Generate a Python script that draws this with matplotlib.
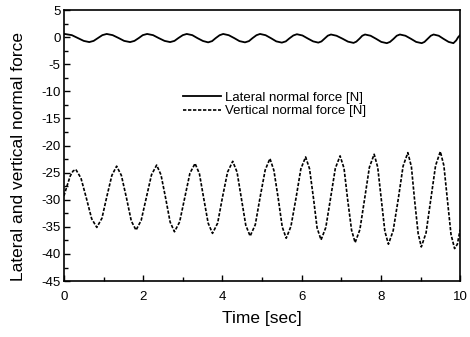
import matplotlib
matplotlib.use("Agg")
import matplotlib.pyplot as plt
from matplotlib.ticker import MultipleLocator

plt.rcParams["font.family"] = ["Liberation Sans", "DejaVu Sans"]
plt.rcParams["axes.unicode_minus"] = False

# lateral normal force [N]
lat_t = [0.00, 0.20, 0.35, 0.50, 0.64, 0.75, 0.86, 0.97, 1.08, 1.23, 1.38, 1.52,
         1.67, 1.78, 1.89, 1.99, 2.10, 2.25, 2.39, 2.54, 2.68, 2.79, 2.89, 3.00,
         3.10, 3.24, 3.37, 3.51, 3.64, 3.74, 3.83, 3.93, 4.02, 4.16, 4.30, 4.43,
         4.57, 4.67, 4.76, 4.86, 4.95, 5.09, 5.23, 5.36, 5.50, 5.60, 5.69, 5.79,
         5.88, 6.02, 6.15, 6.29, 6.42, 6.50, 6.58, 6.66, 6.74, 6.88, 7.03, 7.17,
         7.31, 7.38, 7.46, 7.53, 7.60, 7.74, 7.88, 8.01, 8.15, 8.23, 8.32, 8.40,
         8.48, 8.62, 8.76, 8.89, 9.03, 9.10, 9.18, 9.26, 9.33, 9.46, 9.58, 9.71,
         9.83, 9.90, 9.95, 10.00]
lat_f = [0.62, 0.38, -0.15, -0.68, -0.90, -0.68, -0.15, 0.38, 0.60, 0.38, -0.15, -0.68,
         -0.90, -0.68, -0.15, 0.38, 0.60, 0.38, -0.15, -0.68, -0.90, -0.68, -0.15, 0.38,
         0.60, 0.38, -0.17, -0.70, -0.95, -0.72, -0.17, 0.37, 0.60, 0.37, -0.17, -0.72,
         -0.95, -0.72, -0.17, 0.37, 0.60, 0.37, -0.20, -0.77, -1.00, -0.77, -0.22, 0.32,
         0.55, 0.32, -0.22, -0.77, -1.00, -0.78, -0.25, 0.28, 0.50, 0.27, -0.27, -0.82,
         -1.05, -0.82, -0.27, 0.27, 0.50, 0.27, -0.30, -0.87, -1.10, -0.87, -0.30, 0.27,
         0.50, 0.27, -0.30, -0.87, -1.10, -0.87, -0.30, 0.27, 0.50, 0.27, -0.30, -0.87,
         -1.10, -0.60, 0.00, 0.40]

# vertical normal force [N]
vert_t = [0.00, 0.08, 0.16, 0.23, 0.30, 0.43, 0.57, 0.70, 0.83, 0.96, 1.08, 1.21,
          1.33, 1.45, 1.58, 1.70, 1.82, 1.95, 2.08, 2.21, 2.34, 2.45, 2.57, 2.68,
          2.79, 2.92, 3.05, 3.18, 3.31, 3.42, 3.53, 3.64, 3.75, 3.88, 4.00, 4.13,
          4.26, 4.37, 4.48, 4.59, 4.70, 4.83, 4.95, 5.08, 5.20, 5.30, 5.41, 5.51,
          5.61, 5.73, 5.86, 5.98, 6.10, 6.20, 6.30, 6.39, 6.49, 6.61, 6.73, 6.85,
          6.97, 7.07, 7.16, 7.26, 7.35, 7.47, 7.59, 7.71, 7.83, 7.92, 8.01, 8.10,
          8.19, 8.31, 8.44, 8.56, 8.68, 8.77, 8.85, 8.94, 9.02, 9.14, 9.26, 9.38,
          9.50, 9.59, 9.68, 9.77, 9.86, 9.93, 10.00]
vert_f = [-29.3, -27.4, -25.6, -24.7, -24.4, -26.0, -29.8, -33.5, -35.1, -33.4, -29.5, -25.5,
          -23.8, -25.5, -29.7, -33.9, -35.6, -33.8, -29.6, -25.4, -23.6, -25.4, -29.8, -34.1,
          -35.9, -34.1, -29.6, -25.1, -23.3, -25.2, -29.8, -34.3, -36.2, -34.3, -29.6, -24.9,
          -22.9, -24.9, -29.8, -34.7, -36.7, -34.6, -29.6, -24.5, -22.4, -24.6, -29.8, -35.0,
          -37.1, -34.9, -29.6, -24.3, -22.1, -24.3, -29.8, -35.2, -37.4, -35.1, -29.7, -24.2,
          -21.9, -24.2, -29.9, -35.6, -37.9, -35.5, -29.8, -24.0, -21.6, -24.0, -29.9, -35.8,
          -38.2, -35.7, -29.8, -23.8, -21.3, -23.9, -30.0, -36.2, -38.7, -36.1, -29.9, -23.7,
          -21.1, -23.7, -30.1, -36.4, -39.0, -38.2, -35.5]

fig = plt.figure(figsize=(4.70, 3.37), dpi=100)
ax = fig.add_axes([0.136, 0.166, 0.843, 0.804])

ax.plot(lat_t, lat_f, color="black", lw=1.3, label="Lateral normal force [N]")
ax.plot(vert_t, vert_f, color="black", lw=1.2, dashes=(2.0, 1.0),
        label="Vertical normal force [N]")

ax.set_xlim(0, 10)
ax.set_ylim(-45, 5)
ax.xaxis.set_major_locator(MultipleLocator(2))
ax.xaxis.set_minor_locator(MultipleLocator(1))
ax.yaxis.set_major_locator(MultipleLocator(5))
ax.yaxis.set_minor_locator(MultipleLocator(2.5))
ax.tick_params(which="both", direction="in", width=1.0)
ax.tick_params(which="major", length=4.5)
ax.tick_params(which="minor", length=3)
ax.tick_params(axis="x", labelsize=9.5, pad=7)
ax.tick_params(axis="y", labelsize=9.5, pad=2.5)
for s in ax.spines.values():
    s.set_linewidth(1.2)

ax.set_xlabel("Time [sec]", fontsize=12.5, labelpad=6)
ax.set_ylabel("Lateral and vertical normal force", fontsize=12.5)
ax.yaxis.set_label_coords(-0.096, 0.46)

ax.legend(loc="upper left", bbox_to_anchor=(0.30, 0.70), frameon=False,
          fontsize=9.5, handlelength=2.9, handletextpad=0.3, labelspacing=0.1,
          borderpad=0, borderaxespad=0)

fig.savefig("out.png", dpi=100)
